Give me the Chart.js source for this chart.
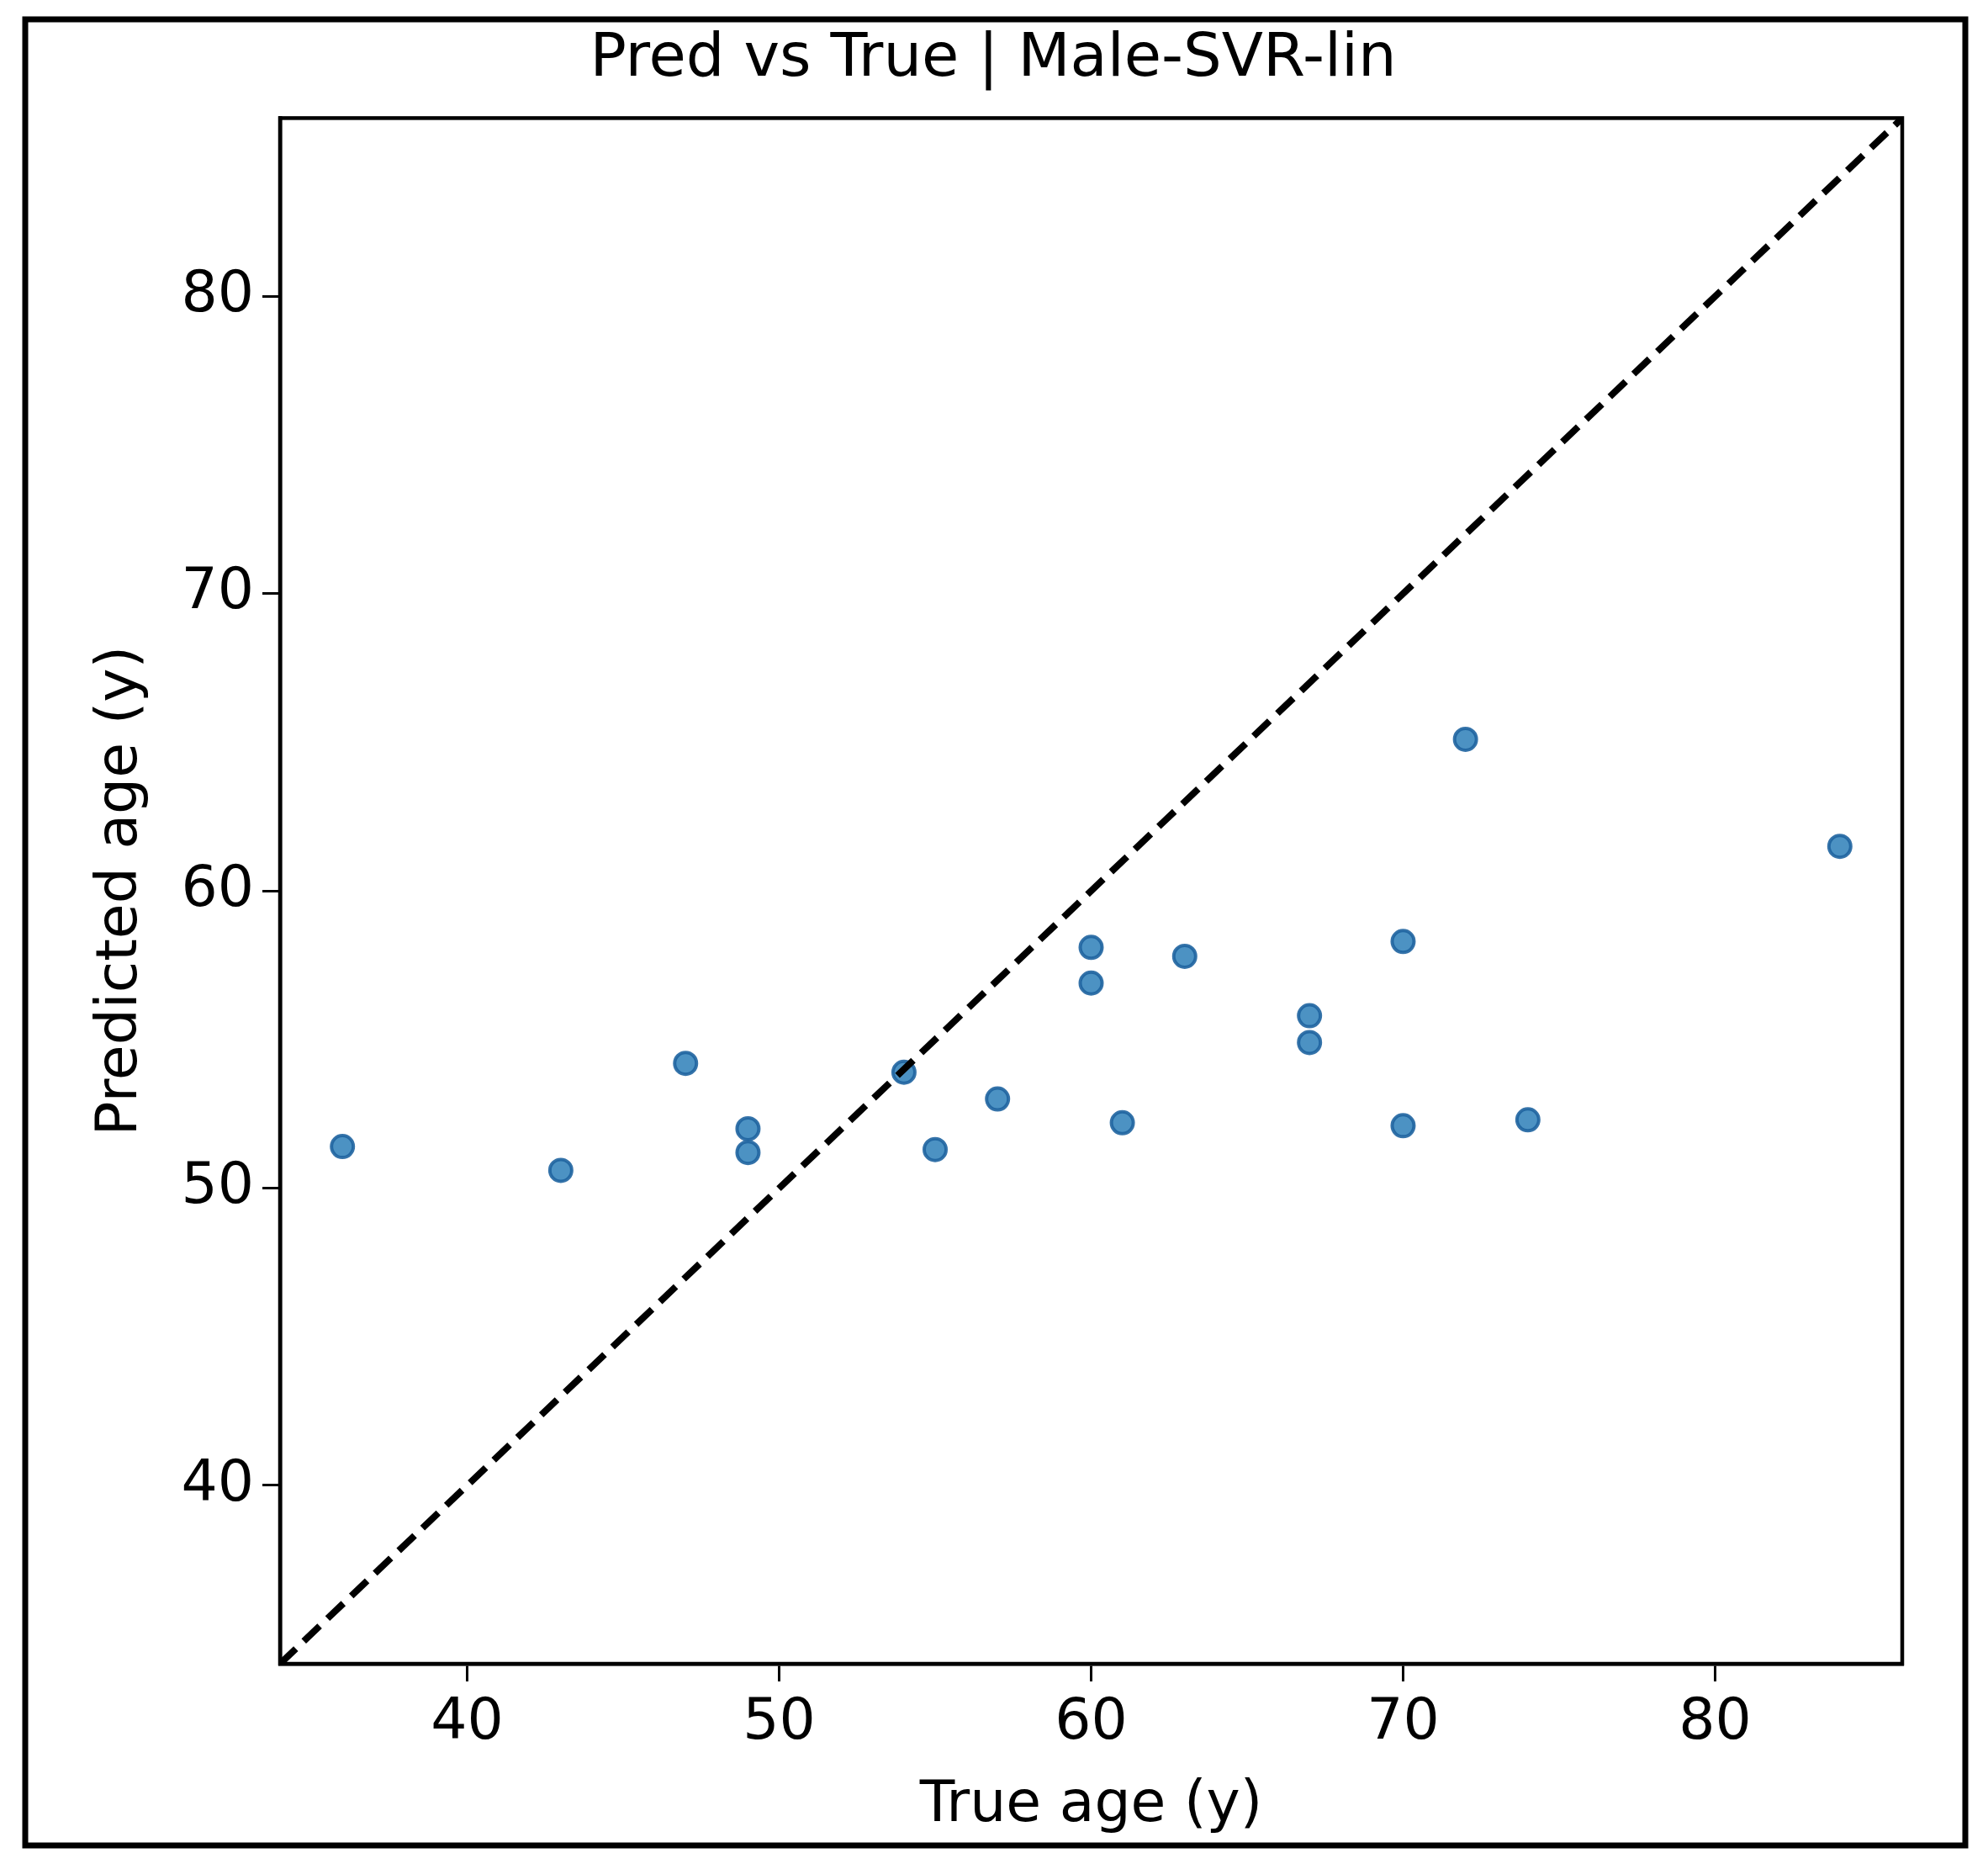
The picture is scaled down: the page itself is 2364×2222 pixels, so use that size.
<!DOCTYPE html>
<html><head><meta charset="utf-8">
<script src="https://cdn.jsdelivr.net/npm/chart.js@4/dist/chart.umd.min.js"></script>
<style>html,body{margin:0;padding:0;background:#fff}#wrap{width:2364px;height:2222px}</style>
</head><body><div id="wrap"><canvas id="c" width="2364" height="2222"></canvas></div>
<script>
const trueAge = [36,43,47,49,49,54,55,57,60,60,61,63,67,67,70,70,72,74,84];
const predAge = [51.4,50.6,54.2,52.0,51.2,53.9,51.3,53.0,58.1,56.9,52.2,57.8,55.8,54.9,58.3,52.1,65.1,52.3,61.5];
const axisMin = 34, axisMax = 86;
const tickVals = [40,50,60,70,80];
const titleText = 'Pred vs True | Male-SVR-lin';
const xLabel = 'True age (y)', yLabel = 'Predicted age (y)';

const F = 'DejaVu Sans';
const border = {id:'border', afterDraw(ch){const c=ch.ctx,a=ch.chartArea;c.save();c.strokeStyle='#000';c.lineWidth=4.5;c.strokeRect(a.left,a.top,a.right-a.left,a.bottom-a.top);c.lineWidth=7;c.strokeRect(30,23,2307,2171);c.restore();}};
const axisCommon = (label)=>({type:'linear',min:axisMin,max:axisMax,
  afterBuildTicks(s){s.ticks=tickVals.map(v=>({value:v}));},
  grid:{drawOnChartArea:false,drawTicks:true,tickLength:21,color:'#000',lineWidth:3},
  border:{display:true,color:'#000',width:4.5},
  ticks:{color:'#000',font:{family:F,size:68},padding:10},
  title:{display:true,text:label,color:'#000',font:{family:F,size:68},padding:{top:4,bottom:0}}});
const xs = axisCommon(xLabel); xs.afterFit = s=>{s.height=210;};
const ys = axisCommon(yLabel); ys.afterFit = s=>{s.width=233;};
new Chart(document.getElementById('c'),{
  type:'scatter',
  data:{datasets:[
    {type:'line',data:[{x:axisMin,y:axisMin},{x:axisMax,y:axisMax}],borderColor:'#000',borderWidth:8,borderDash:[26,13],pointRadius:0,fill:false},
    {data:trueAge.map((x,i)=>({x,y:predAge[i]})),backgroundColor:'rgba(31,119,180,0.8)',borderColor:'rgba(31,100,160,0.9)',borderWidth:4,pointRadius:13}
  ]},
  options:{responsive:false,animation:false,devicePixelRatio:1,
    layout:{padding:{top:28,left:100,right:102,bottom:34}},
    plugins:{legend:{display:false},tooltip:{enabled:false},
      title:{display:true,text:titleText,color:'#000',font:{family:F,size:72,weight:'normal'},padding:{top:0,bottom:26}}},
    scales:{x:xs,y:ys}},
  plugins:[border]
});
</script></body></html>
